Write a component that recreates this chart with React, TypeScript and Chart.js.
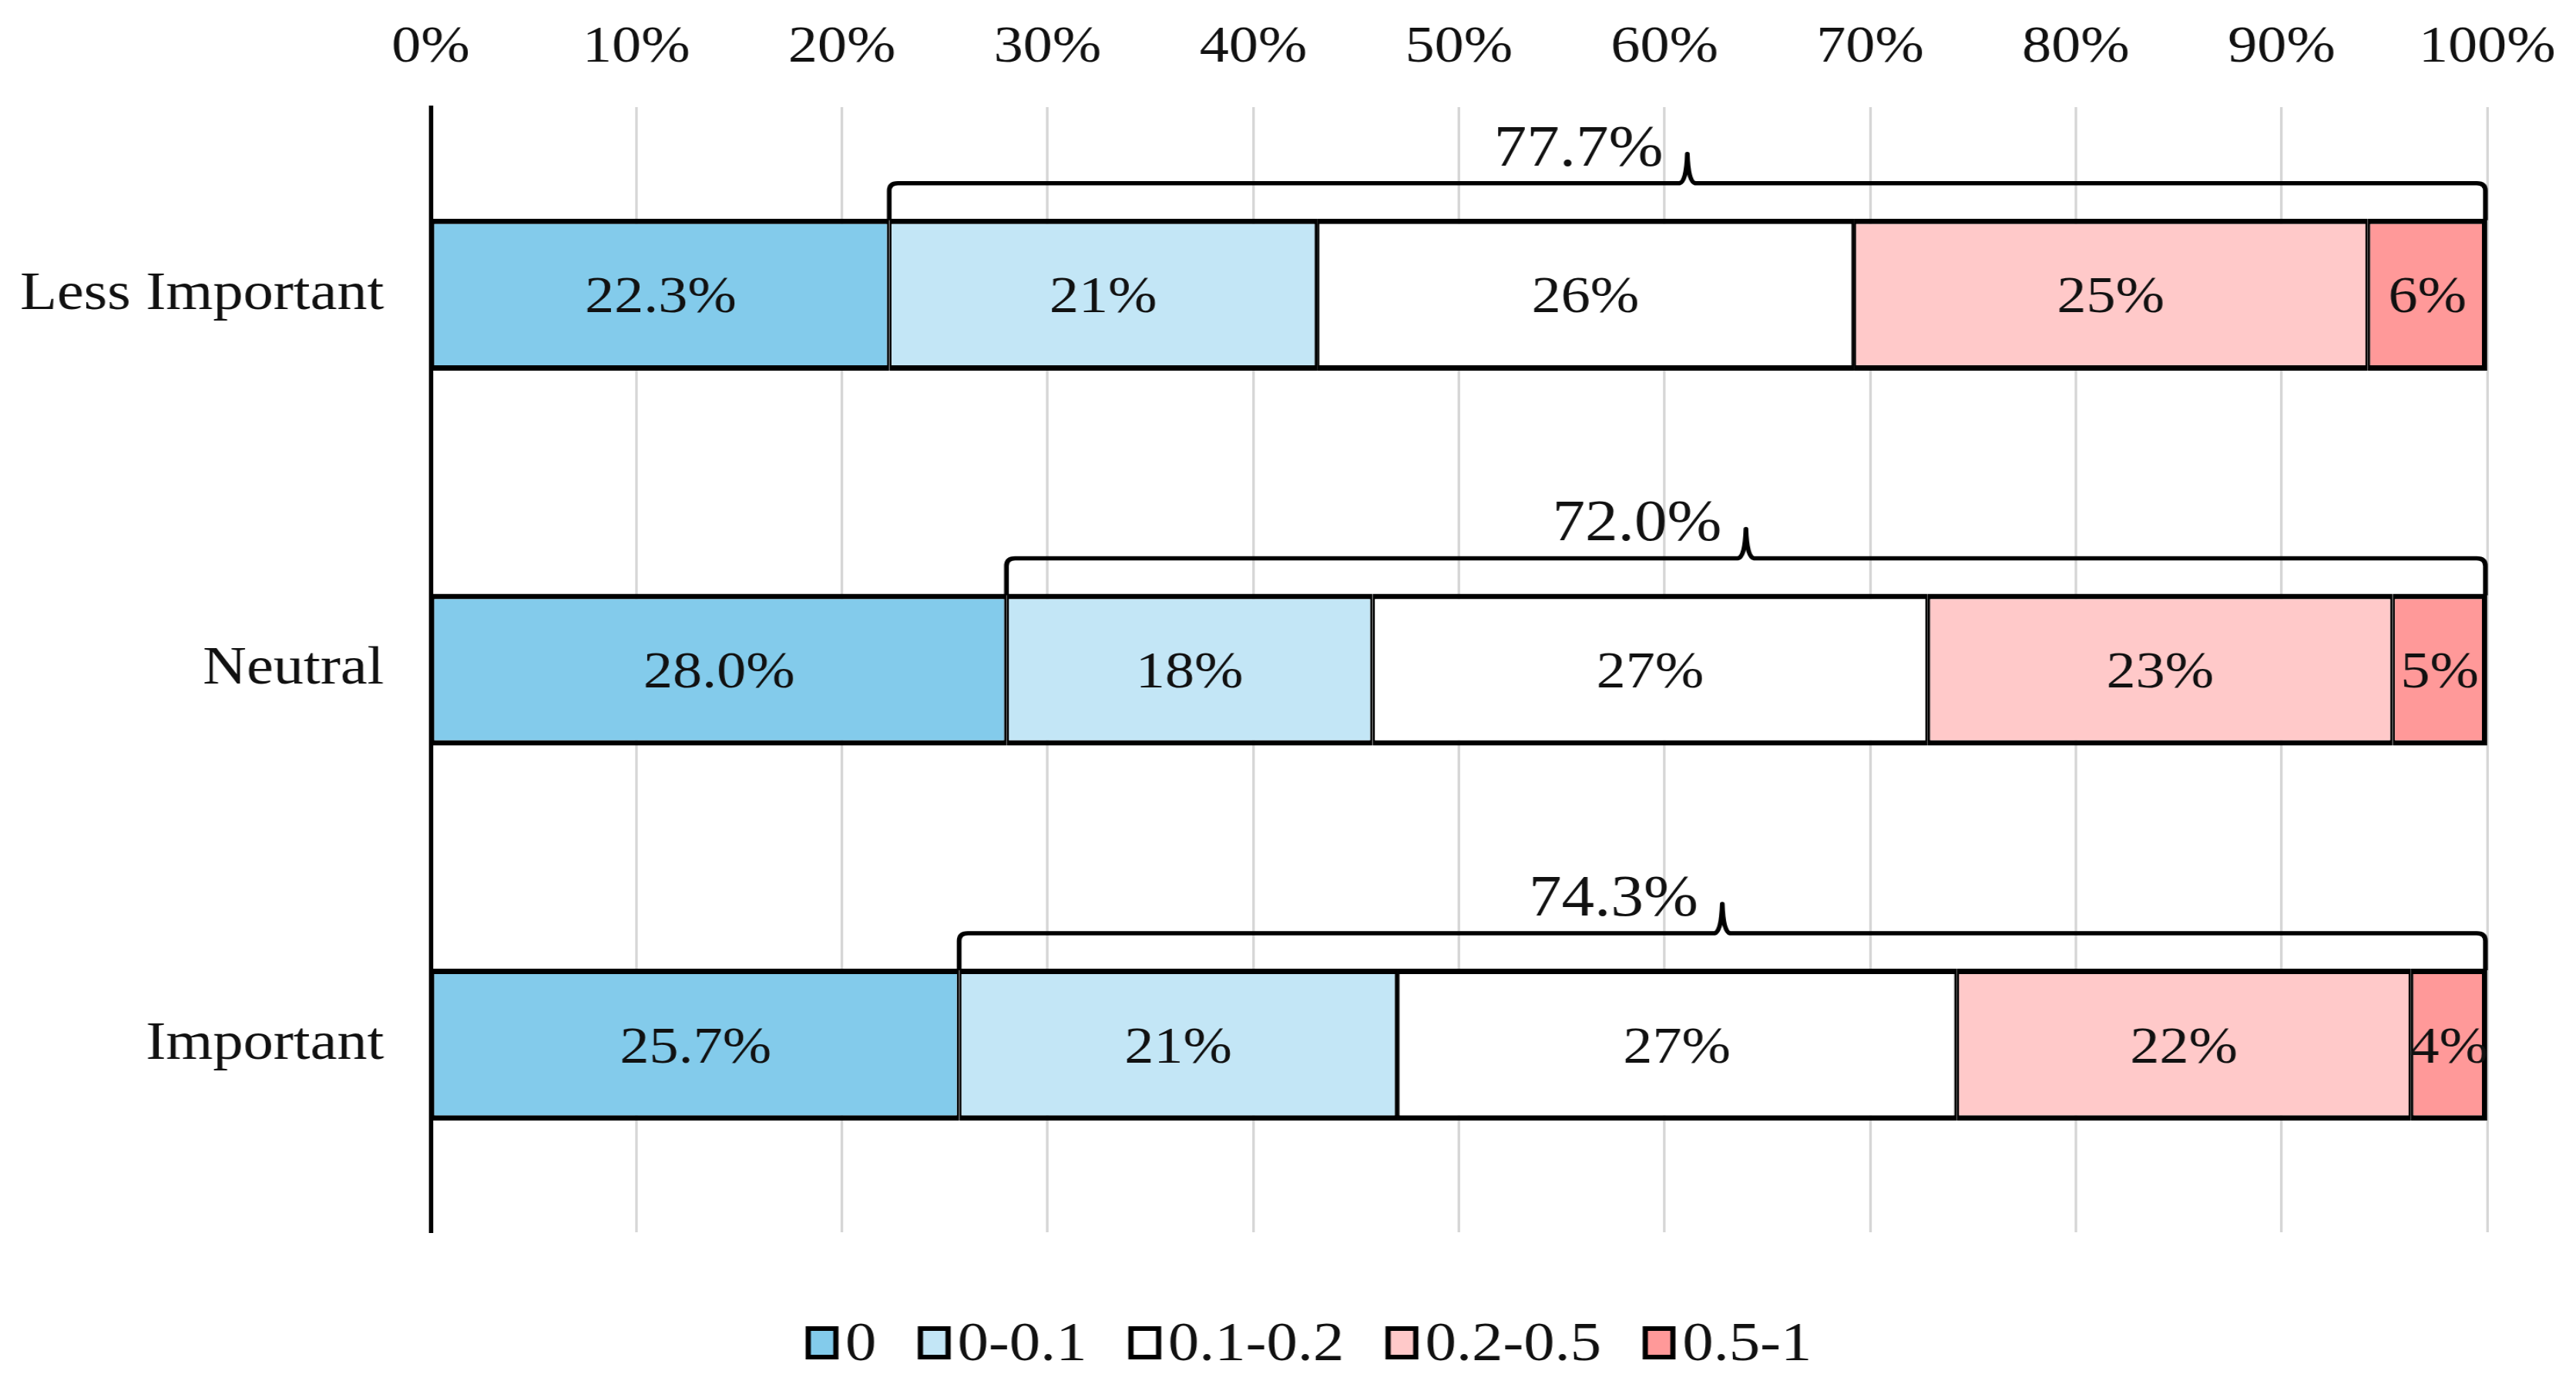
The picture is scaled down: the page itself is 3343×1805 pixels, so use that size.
import React, { useEffect, useRef } from "react";
import { Chart, registerables } from "chart.js";

Chart.register(...registerables);

// ---- data ----
const categories = ["Less Important", "Neutral", "Important"];
const seriesNames = ["0", "0-0.1", "0.1-0.2", "0.2-0.5", "0.5-1"];
const share0 = [22.3, 28.0, 25.7];
const share0to01 = [20.8, 17.8, 21.3];
const share01to02 = [26.1, 27.0, 27.2];
const share02to05 = [25.0, 22.6, 22.1];
const share05to1 = [5.8, 4.6, 3.7];
const seriesValues = [share0, share0to01, share01to02, share02to05, share05to1];
const xTickStep = 10;
const xMax = 100;

// ---- style ----
const seriesColors = ["#83CBEB", "#C3E6F6", "#FFFFFF", "#FFC9C9", "#FF9999"];
const FONT = "'Liberation Serif', 'Times New Roman', serif";
const TEXT = "#111111";
const SX = 1.12; // horizontal stretch of the original picture
const OUT_W = 3343;
const OUT_H = 1805;
const W = Math.round(OUT_W / SX);
const H = OUT_H;

const overlayPlugin = {
  id: "overlay",
  afterDatasetsDraw(chart: any) {
    const ctx = chart.ctx as CanvasRenderingContext2D;
    const xs = chart.scales.x;
    ctx.save();
    // segment labels
    ctx.fillStyle = TEXT;
    ctx.font = `68px ${FONT}`;
    ctx.textAlign = "center";
    ctx.textBaseline = "middle";
    chart.data.datasets.forEach((ds: any, di: number) => {
      const meta = chart.getDatasetMeta(di);
      meta.data.forEach((bar: any, i: number) => {
        const p = bar.getProps(["x", "y", "base"], true);
        const v = ds.data[i];
        const txt = di === 0 ? v.toFixed(1) + "%" : Math.round(v) + "%";
        ctx.fillText(txt, (p.x + p.base) / 2, p.y + 5);
      });
    });
    // brackets
    const meta0 = chart.getDatasetMeta(0);
    categories.forEach((_, i) => {
      const bar = meta0.data[i];
      const p = bar.getProps(["x", "y", "height"], true);
      const first = chart.data.datasets[0].data[i];
      const total = chart.data.datasets.reduce((s: number, d: any) => s + d.data[i], 0);
      const x1 = p.x;
      const x2 = xs.getPixelForValue(total) - 2;
      const barTop = p.y - p.height / 2;
      const yb = barTop + 2;
      const yl = barTop - 46;
      const r = 10;
      const xm = (x1 + x2) / 2;
      ctx.beginPath();
      ctx.strokeStyle = "#000";
      ctx.lineWidth = 5.5;
      ctx.lineJoin = "round";
      ctx.moveTo(x1, yb);
      ctx.lineTo(x1, yl + r);
      ctx.quadraticCurveTo(x1, yl, x1 + r, yl);
      ctx.lineTo(xm - 9, yl);
      ctx.quadraticCurveTo(xm - 1, yl - 2, xm, yl - 38);
      ctx.quadraticCurveTo(xm + 1, yl - 2, xm + 9, yl);
      ctx.lineTo(x2 - r, yl);
      ctx.quadraticCurveTo(x2, yl, x2, yl + r);
      ctx.lineTo(x2, yb);
      ctx.stroke();
      ctx.fillStyle = TEXT;
      ctx.font = `76px ${FONT}`;
      ctx.textAlign = "right";
      ctx.textBaseline = "alphabetic";
      ctx.fillText((total - first).toFixed(1) + "%", xm - 28, yl - 23);
    });
    ctx.restore();
  },
  afterDraw(chart: any) {
    const ctx = chart.ctx as CanvasRenderingContext2D;
    ctx.save();
    ctx.font = `72px ${FONT}`;
    const boxW = 38;
    const boxH = 43;
    const gap = 8;
    const itemGap = 48;
    const widths = seriesNames.map((n) => boxW + gap + ctx.measureText(n).width);
    const total = widths.reduce((a, b) => a + b, 0) + itemGap * (seriesNames.length - 1);
    let x = chart.width / 2 + 24 - total / 2;
    const boxTop = 1721;
    const baseline = 1765;
    seriesNames.forEach((n, i) => {
      ctx.fillStyle = "#000";
      ctx.fillRect(x, boxTop, boxW, boxH);
      ctx.fillStyle = seriesColors[i];
      ctx.fillRect(x + 6, boxTop + 6, boxW - 12, boxH - 12);
      ctx.fillStyle = TEXT;
      ctx.textAlign = "left";
      ctx.textBaseline = "alphabetic";
      ctx.fillText(n, x + boxW + gap, baseline);
      x += widths[i] + itemGap;
    });
    ctx.restore();
  },
};

export default function App() {
  const ref = useRef<HTMLCanvasElement | null>(null);
  useEffect(() => {
    document.body.style.margin = "0";
    document.body.style.overflow = "hidden";
    if (!ref.current) return;
    const last = seriesValues.length - 1;
    const chart = new Chart(ref.current, {
      type: "bar",
      data: {
        labels: categories,
        datasets: seriesValues.map((vals, i) => ({
          label: seriesNames[i],
          data: vals,
          backgroundColor: seriesColors[i],
          borderColor: "#000000",
          borderWidth: {
            top: 7,
            bottom: 7,
            left: 2.8,
            right: i === last ? 6 : 2.8,
          },
          borderSkipped: false,
          barPercentage: 0.405,
          categoryPercentage: 1,
        })),
      },
      options: {
        indexAxis: "y",
        animation: false,
        responsive: false,
        maintainAspectRatio: false,
        devicePixelRatio: 1,
        layout: { padding: { top: 0, right: 103, bottom: 206, left: 0 } },
        plugins: {
          legend: { display: false },
          tooltip: { enabled: false },
          title: { display: false },
        },
        scales: {
          x: {
            position: "top",
            stacked: true,
            min: 0,
            max: xMax,
            ticks: {
              stepSize: xTickStep,
              callback: (v: any) => v + "%",
              font: { family: FONT, size: 68 },
              color: TEXT,
              padding: 36,
              maxRotation: 0,
              autoSkip: false,
            },
            grid: { color: "#D6D6D6", lineWidth: 3, drawTicks: false },
            border: { display: false },
            afterFit: (scale: any) => {
              scale.height = 139;
              scale.paddingLeft = 0;
              scale.paddingRight = 0;
            },
          },
          y: {
            stacked: true,
            ticks: {
              font: { family: FONT, size: 70 },
              color: TEXT,
              padding: 54,
            },
            grid: { display: false, drawTicks: false },
            border: { display: true, color: "#000000", width: 5 },
            afterFit: (scale: any) => {
              scale.width = 499;
            },
          },
        },
      },
      plugins: [overlayPlugin],
    } as any);
    return () => chart.destroy();
  }, []);
  return (
    <div style={{ width: OUT_W, height: OUT_H, background: "#fff" }}>
      <canvas
        ref={ref}
        width={W}
        height={H}
        style={{ width: OUT_W + "px", height: OUT_H + "px", display: "block" }}
      />
    </div>
  );
}
